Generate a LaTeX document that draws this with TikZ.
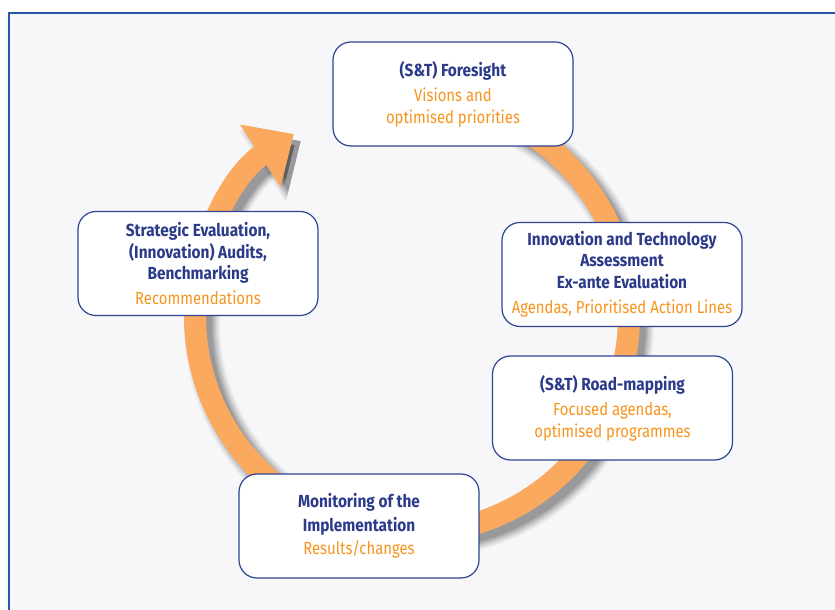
\documentclass[tikz,border=0pt]{standalone}
\usepackage{fontspec}
\setmainfont{Fira Sans}[FakeStretch=0.85,BoldFeatures={FakeStretch=0.88}]
\usepackage{tikz}
\usetikzlibrary{arrows.meta}
\definecolor{frameblue}{HTML}{2457A8}
\definecolor{boxblue}{HTML}{2E4593}
\definecolor{titleblue}{HTML}{2B3B8A}
\definecolor{suborange}{HTML}{F7941D}
\definecolor{arcorange}{HTML}{FAA95E}
\definecolor{panel}{HTML}{F7F7F9}
\newcommand{\ttlline}[1]{{\color{titleblue}\bfseries #1}}
\newcommand{\subline}[1]{{\color{suborange}#1}}
\tikzset{
    %Define style for the stage boxes
    stage/.style={
           draw=boxblue,
           line width=1.2pt,
           fill=white,
           rounded corners=18pt,
           minimum width=240pt,
           minimum height=104pt,
           align=center,
           inner sep=2pt,
           font=\fontsize{17.5}{21.5}\selectfont},
    % Define style for the cycle arrow
    cycle/.style={
           draw=arcorange,
           line width=22pt,
           -{Triangle[width=72pt,length=40pt]}},
    cycleshadow/.style={
           draw=black}
}

\begin{document}
\begin{tikzpicture}[x=1pt,y=1pt]
	\useasboundingbox (0,0) rectangle (835,610);

	% panel and frame
	\fill[white] (0,0) rectangle (835,610);
	\fill[panel] (9,0) rectangle (835,597);
	\draw[frameblue, line width=1.5pt] (9,0) -- (9,597) -- (835,597);

	% cycle arrow with soft shadow
	\coordinate (hub) at (412,294);
	\coordinate (hubshadow) at (419,287);
	\foreach \w/\o/\hw/\hl in {36/0.05/84/46, 32/0.07/80/44, 28/0.09/76/42, 24/0.11/72/40, 20/0.12/68/38}{
		\draw[cycleshadow, line width=\w pt, opacity=\o, -{Triangle[width=\hw pt,length=\hl pt]}]
			(hubshadow) ++(90:217) arc[start angle=90, end angle=-237, radius=217];
	}
	\draw[cycle] (hub) ++(90:217) arc[start angle=90, end angle=-237, radius=217];

	% stages
	\node[stage] (foresight) at (453,516) {\ttlline{(S\&T) Foresight}\\[4pt]
		\subline{Visions and}\\\subline{optimised priorities}};

	\node[stage] (assessment) at (622,335.5) {\ttlline{Innovation and Technology}\\
		\ttlline{Assessment}\\\ttlline{Ex-ante Evaluation}\\[4pt]
		\subline{Agendas, Prioritised Action Lines}};

	\node[stage] (roadmapping) at (612.5,202) {\ttlline{(S\&T) Road-mapping}\\[4pt]
		\subline{Focused agendas,}\\\subline{optimised programmes}};

	\node[stage] (monitoring) at (359,84) {\ttlline{Monitoring of the}\\[2pt]
		\ttlline{Implementation}\\[2pt]\subline{Results/changes}};

	\node[stage] (evaluation) at (198,346.5) {\ttlline{Strategic Evaluation,}\\
		\ttlline{(Innovation) Audits,}\\\ttlline{Benchmarking}\\[3pt]
		\subline{Recommendations}};

\end{tikzpicture}
\end{document}
